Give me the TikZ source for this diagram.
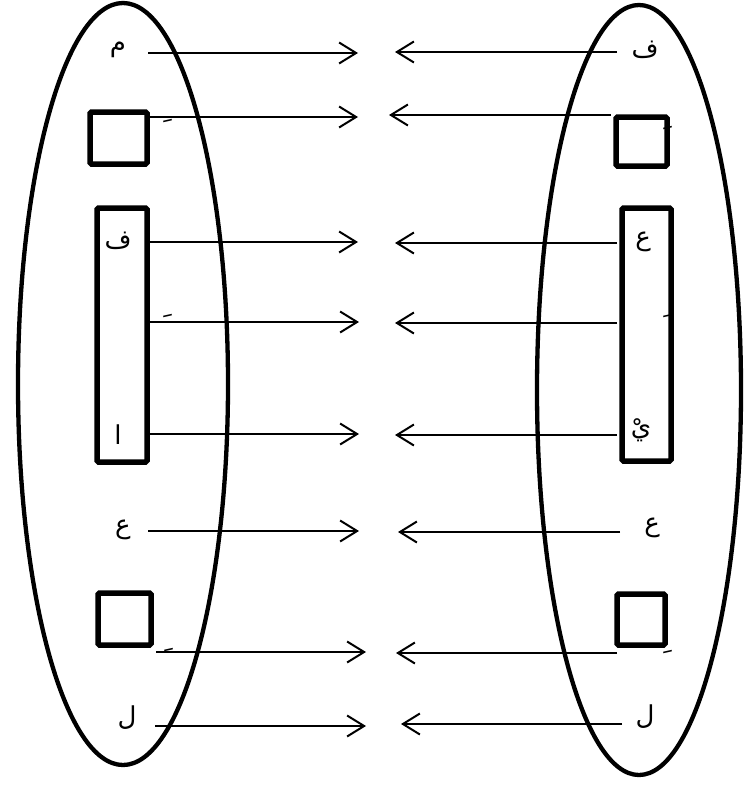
\documentclass[tikz,border=0pt]{standalone}
\usepackage{fontspec}
\newfontfamily\arabicfont[Script=Arabic]{DejaVu Sans}
\TeXXeTstate=1
\usetikzlibrary{arrows.meta}
\begin{document}
\begin{tikzpicture}[x=1pt,y=-1pt,
  oval/.style={line width=4.3pt},
  box/.style={draw,line width=5.5pt,rounded corners=1.5pt},
  lett/.style={inner sep=0pt,font=\arabicfont\fontsize{26}{26}\selectfont},
  mrk/.style={inner sep=0pt,font=\arabicfont\fontsize{30}{30}\selectfont},
  conn/.style={line width=1.8pt,-{Straight Barb[length=17pt,width=21pt,line width=2pt]}}]
\useasboundingbox (0,0) rectangle (744,787);
% ellipses
\draw[oval] (123,384) ellipse [x radius=105, y radius=381];
\draw[oval] (639,390) ellipse [x radius=102, y radius=385];
% left boxes
\draw[box] (90,112) rectangle (147,164);
\draw[box] (97,208) rectangle (147,462);
\draw[box] (98,593) rectangle (151,645);
% right boxes
\draw[box] (616,117) rectangle (667,166);
\draw[box] (622,208) rectangle (671,461);
\draw[box] (617,594) rectangle (665,645);
% left letters
\node[lett] (l1) at (118,50) {\beginR م\endR};
\node[mrk]  (l2) at (160,130) {\beginR  َ\endR};
\node[lett] (l3) at (118,241) {\beginR ف\endR};
\node[mrk]  (l4) at (160,325) {\beginR  َ\endR};
\node[lett] (l5) at (118,435) {\beginR ا\endR};
\node[lett] (l6) at (123,530) {\beginR ع\endR};
\node[mrk]  (l7) at (161,659) {\beginR  َ\endR};
\node[lett] (l8) at (127,718) {\beginR ل\endR};
% right letters
\node[lett] (r1) at (645,50) {\beginR ف\endR};
\node[mrk]  (r2) at (660,137) {\beginR  َ\endR};
\node[lett] (r3) at (643,242) {\beginR ع\endR};
\node[mrk]  (r4) at (660,325) {\beginR  َ\endR};
\node[lett] (r5) at (641,430) {\beginR يْ\endR};
\node[lett] (r6) at (652,528) {\beginR ع\endR};
\node[mrk]  (r7) at (660,661) {\beginR  َ\endR};
\node[lett] (r8) at (645,717) {\beginR ل\endR};
% arrow coordinates, left side
\coordinate (la1) at (148,53);  \coordinate (lb1) at (358,53);
\coordinate (la2) at (150,117); \coordinate (lb2) at (358,117);
\coordinate (la3) at (148,242); \coordinate (lb3) at (358,242);
\coordinate (la4) at (148,322); \coordinate (lb4) at (359,322);
\coordinate (la5) at (148,434); \coordinate (lb5) at (359,434);
\coordinate (la6) at (148,531); \coordinate (lb6) at (359,531);
\coordinate (la7) at (156,652); \coordinate (lb7) at (366,652);
\coordinate (la8) at (155,726); \coordinate (lb8) at (366,726);
% right side
\coordinate (ra1) at (617,52);  \coordinate (rb1) at (395,52);
\coordinate (ra2) at (611,115); \coordinate (rb2) at (389,115);
\coordinate (ra3) at (617,243); \coordinate (rb3) at (395,243);
\coordinate (ra4) at (617,323); \coordinate (rb4) at (395,323);
\coordinate (ra5) at (617,435); \coordinate (rb5) at (395,435);
\coordinate (ra6) at (620,532); \coordinate (rb6) at (398,532);
\coordinate (ra7) at (617,653); \coordinate (rb7) at (396,653);
\coordinate (ra8) at (622,724); \coordinate (rb8) at (401,724);
\foreach \i in {1,...,8}{
  \draw[conn] (la\i) -- (lb\i);
  \draw[conn] (ra\i) -- (rb\i);
}
\end{tikzpicture}
\end{document}
